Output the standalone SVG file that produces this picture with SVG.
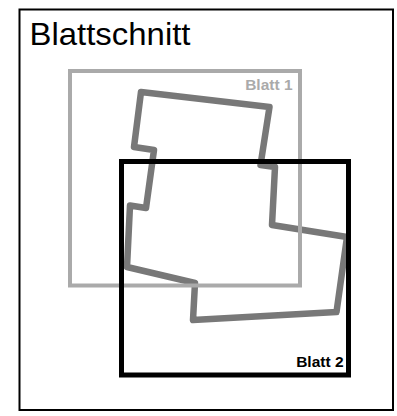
<svg xmlns="http://www.w3.org/2000/svg" width="397" height="416" viewBox="0 0 397 416">
<style>
.lbl{font-family:"Liberation Sans",Arial,sans-serif;font-weight:bold;font-size:15.5px;text-anchor:end}
</style>
<rect width="397" height="416" fill="#fff"/>
<g id="frame">
<rect x="19.5" y="9.5" width="373.5" height="400.5" fill="none" stroke="#000" stroke-width="2"/>
<text x="29.5" y="45" font-family="Liberation Sans, Arial, sans-serif" font-size="32" textLength="161" lengthAdjust="spacingAndGlyphs" fill="#000">Blattschnitt</text>
</g>
<g id="area">
<polygon points="141,92 269.5,107 260.5,165 275,167 272,225 347,237 336.5,312 193,320 195,283 127,267 130,205.5 146,208 154,150 134,147" fill="none" stroke="#787878" stroke-width="6.5" stroke-linejoin="round"/>
</g>
<g id="blatt1">
<rect x="70" y="71" width="230" height="214.5" fill="none" stroke="#aaa" stroke-width="4"/>
<text class="lbl" x="292.5" y="90" fill="#aaa">Blatt 1</text>
</g>
<g id="blatt2">
<rect x="121.5" y="161.5" width="227" height="213.5" fill="none" stroke="#000" stroke-width="5"/>
<text class="lbl" x="343.5" y="366.5" fill="#000">Blatt 2</text>
</g>
<g id="connectors"/>
</svg>
